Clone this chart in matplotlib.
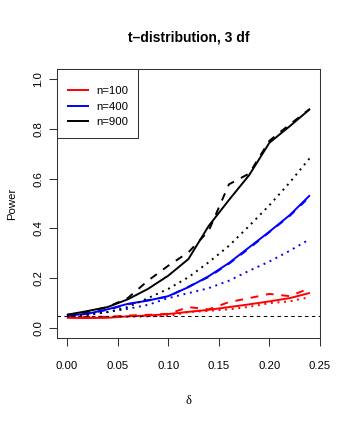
import numpy as np
import matplotlib
matplotlib.use("Agg")
import matplotlib.pyplot as plt

plt.rcParams['font.family'] = ['Liberation Sans', 'DejaVu Sans']

delta = [0.00, 0.02, 0.04, 0.06, 0.08, 0.10, 0.12, 0.14, 0.16, 0.18, 0.20, 0.22, 0.24]

# n=100
red_solid  = [0.041, 0.040, 0.041, 0.047, 0.050, 0.056, 0.065, 0.073, 0.084, 0.095, 0.107, 0.120, 0.141]
red_dash   = [0.045, 0.045, 0.045, 0.050, 0.053, 0.057, 0.084, 0.075, 0.104, 0.120, 0.137, 0.128, 0.160]
red_dot    = [0.045, 0.045, 0.045, 0.045, 0.047, 0.048, 0.064, 0.069, 0.075, 0.085, 0.100, 0.107, 0.124]
# n=400
blue_solid = [0.050, 0.057, 0.075, 0.097, 0.110, 0.128, 0.164, 0.208, 0.261, 0.324, 0.387, 0.453, 0.533]
blue_dash  = [0.050, 0.058, 0.073, 0.095, 0.112, 0.126, 0.166, 0.205, 0.258, 0.320, 0.385, 0.450, 0.528]
blue_dot   = [0.045, 0.052, 0.064, 0.077, 0.093, 0.120, 0.140, 0.160, 0.190, 0.230, 0.267, 0.310, 0.357]
# n=900
black_solid = [0.053, 0.068, 0.084, 0.115, 0.157, 0.210, 0.277, 0.410, 0.514, 0.614, 0.744, 0.810, 0.879]
black_dash  = [0.053, 0.065, 0.084, 0.120, 0.190, 0.250, 0.304, 0.390, 0.577, 0.620, 0.752, 0.817, 0.880]
black_dot   = [0.050, 0.055, 0.064, 0.084, 0.120, 0.157, 0.204, 0.264, 0.330, 0.410, 0.493, 0.584, 0.683]

alpha_level = 0.05
legend_labels = ["n=100", "n=400", "n=900"]
xticks = [0.00, 0.05, 0.10, 0.15, 0.20, 0.25]
yticks = [0.0, 0.2, 0.4, 0.6, 0.8, 1.0]

fig = plt.figure(figsize=(3.49, 4.26), dpi=100)
ax = fig.add_axes([0.164, 0.2066, 0.753, 0.6314])

lw = 1.4
series = [
    (red_solid, red_dash, red_dot, 'red'),
    (blue_solid, blue_dash, blue_dot, 'blue'),
    (black_solid, black_dash, black_dot, 'black'),
]
handles = []
for s, d, o, c in series:
    h, = ax.plot(delta, s, color=c, lw=lw, solid_capstyle='butt')
    ax.plot(delta, d, color=c, lw=lw, linestyle=(0, (4, 4)), dash_capstyle='butt')
    ax.plot(delta, o, color=c, lw=lw, linestyle=(0, (1, 2.4)), dash_capstyle='butt')
    handles.append(h)

ax.axhline(alpha_level, color='black', lw=0.75, linestyle=(0, (3.3, 3.3)))

ax.set_xlim(-0.0096, 0.2496)
ax.set_ylim(-0.04, 1.04)
ax.set_xticks(xticks)
ax.set_xticklabels([f"{t:.2f}" for t in xticks])
ax.set_yticks(yticks)
ax.set_yticklabels([f"{t:.1f}" for t in yticks])
for lab in ax.get_yticklabels():
    lab.set_rotation(90)
    lab.set_va('center')
ax.tick_params(direction='out', length=5.5, width=0.75, labelsize=8.2, color='#333333')
ax.tick_params(axis='x', pad=11)
ax.tick_params(axis='y', pad=4.5)
for sp in ax.spines.values():
    sp.set_linewidth(0.75)
    sp.set_color('#333333')

ax.set_xlabel("δ", fontsize=9, family=['Liberation Serif', 'DejaVu Serif'], labelpad=17.7)
ax.set_ylabel("Power", fontsize=8.2, labelpad=11.8)
ax.set_title("t\u2013distribution, 3 df", fontsize=10, fontweight='bold', pad=20)

leg = ax.legend(handles, legend_labels, loc='upper left', bbox_to_anchor=(0, 1),
                borderaxespad=0, fontsize=8.2, fancybox=False, framealpha=1,
                edgecolor='#333333', handlelength=1.9, handletextpad=0.6,
                labelspacing=0.5, borderpad=0.9, title=" ", title_fontsize=0.5)
leg.get_frame().set_linewidth(0.75)

fig.savefig("out.png", dpi=100)
